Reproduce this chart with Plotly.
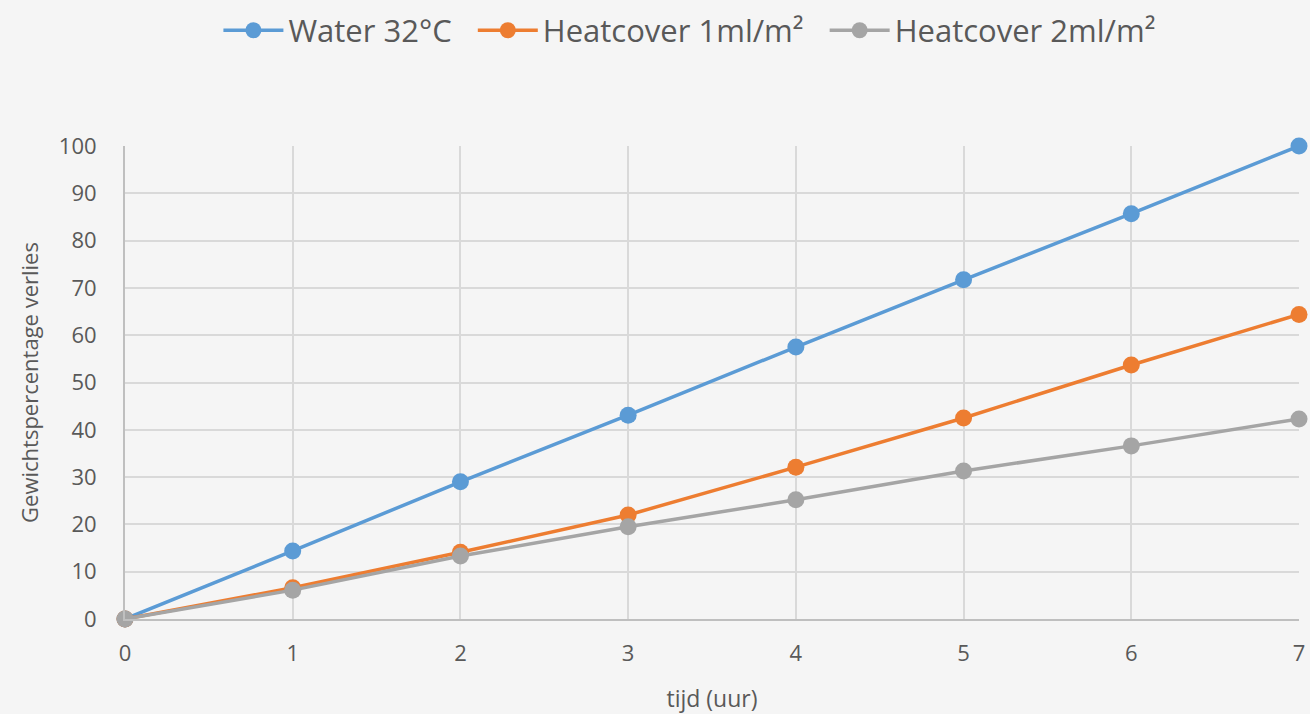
import plotly.graph_objects as go

hours = [0, 1, 2, 3, 4, 5, 6, 7]
water = [0, 14.4, 29.0, 43.1, 57.5, 71.7, 85.7, 100]
heat1 = [0, 6.6, 14.1, 22.0, 32.1, 42.5, 53.7, 64.4]
heat2 = [0, 6.1, 13.3, 19.5, 25.2, 31.3, 36.6, 42.3]
names = ["Water 32°C", "Heatcover 1ml/m²", "Heatcover 2ml/m²"]
colors = ["#5b9bd5", "#ed7d31", "#a5a5a5"]

fig = go.Figure()
for name, ys, c in zip(names, [water, heat1, heat2], colors):
    fig.add_trace(go.Scatter(x=hours, y=ys, name=name + "\u00a0\u00a0", mode="lines+markers",
                             line=dict(color=c, width=3.5),
                             marker=dict(color=c, size=17),
                             cliponaxis=False))

font = "Open Sans, Liberation Sans, sans-serif"
fig.update_layout(
    width=1310, height=714,
    paper_bgcolor="#f5f5f5", plot_bgcolor="#f5f5f5",
    margin=dict(l=125, r=11, t=146, b=95, autoexpand=False),
    font=dict(family=font, color="#595959", size=22),
    legend=dict(orientation="h", x=0.488, xanchor="center", xref="paper",
                y=0.995, yref="container", yanchor="top",
                font=dict(size=31, color="#595959"), itemwidth=60,
                bgcolor="rgba(0,0,0,0)"),
    showlegend=True,
)
fig.update_xaxes(range=[0, 7], dtick=1, showgrid=True, gridcolor="#d9d9d9", gridwidth=2,
                 zeroline=False, showline=True, linecolor="#bfbfbf", linewidth=2,
                 ticks="", ticklabelstandoff=14, automargin=False,
                 title=dict(text="tijd (uur)", font=dict(size=23), standoff=26))
fig.update_yaxes(range=[0, 100], dtick=10, showgrid=True, gridcolor="#d9d9d9", gridwidth=2,
                 zeroline=False, showline=True, linecolor="#bfbfbf", linewidth=2,
                 ticks="", ticklabelstandoff=22, automargin=False,
                 title=dict(text="Gewichtspercentage verlies", font=dict(size=22), standoff=14))
fig.write_html("out.html")
